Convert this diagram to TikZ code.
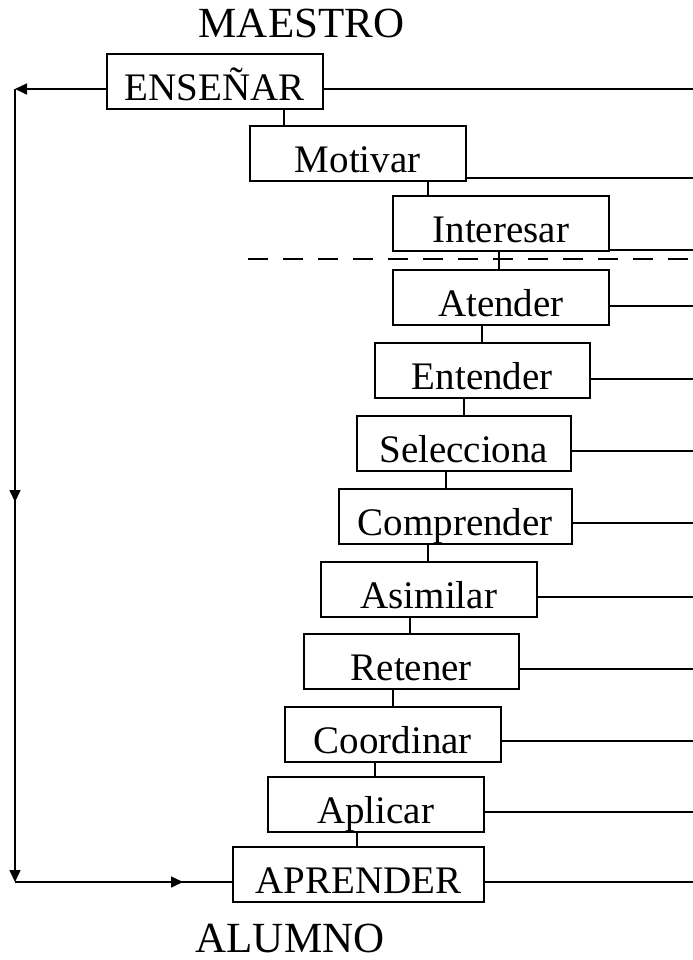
\documentclass[tikz,border=0pt]{standalone}
\usepackage{fontspec}
\setmainfont{Liberation Serif}
\usetikzlibrary{arrows.meta,decorations.markings}

\begin{document}
\begin{tikzpicture}[x=1bp,y=-1bp,
  stagebox/.style={draw, line width=1.6bp, inner sep=0pt,
    text height=46.5bp, text depth=8.5bp, anchor=north west,
    minimum width=216bp,
    font=\fontsize{39bp}{41bp}\selectfont},
  role/.style={inner sep=0pt, anchor=base, text depth=0pt,
    font=\fontsize{43bp}{45bp}\selectfont},
  link/.style={line width=1.6bp},
  tip/.style={-{Triangle[length=12bp,width=11bp]}},
  midtip/.style={postaction=decorate, decoration={markings,
    mark=at position #1 with {\arrow{Triangle[length=12bp,width=11bp]}}}}
]
\useasboundingbox (0,0) rectangle (693,960);

% role labels
\node[role] (maestro) at (301.5,37) {MAESTRO};
\node[role] (alumno) at (290,952) {ALUMNO};

% stages of the process
\node[stagebox] (ens) at (106,53) {ENSEÑAR};
\node[stagebox] (mot) at (249,125) {Motivar};
\node[stagebox] (int) at (392,195) {Interesar};
\node[stagebox] (ate) at (392,269) {Atender};
\node[stagebox, minimum width=215bp] (ent) at (374,342) {Entender};
\node[stagebox, minimum width=214bp] (sel) at (356,415) {Selecciona};
\node[stagebox, minimum width=233bp] (com) at (338,488) {Comprender};
\node[stagebox] (asi) at (320,561) {Asimilar};
\node[stagebox, minimum width=215bp] (ret) at (303,633) {Retener};
\node[stagebox] (coo) at (284,706) {Coordinar};
\node[stagebox] (apl) at (267,776) {Aplicar};
\node[stagebox, minimum width=251bp] (apr) at (232,846) {APRENDER};

% vertical links between consecutive stages
\draw[link] (ens.south -| 284,0) -- (mot.north -| 284,0);
\draw[link] (mot.south -| 428,0) -- (int.north -| 428,0);
\draw[link] (int.south -| 499,0) -- (ate.north -| 499,0);
\draw[link] (ate.south -| 482,0) -- (ent.north -| 482,0);
\draw[link] (ent.south -| 464,0) -- (sel.north -| 464,0);
\draw[link] (sel.south -| 446,0) -- (com.north -| 446,0);
\draw[link] (com.south -| 428,0) -- (asi.north -| 428,0);
\draw[link] (asi.south -| 410,0) -- (ret.north -| 410,0);
\draw[link] (ret.south -| 393,0) -- (coo.north -| 393,0);
\draw[link] (coo.south -| 375,0) -- (apl.north -| 375,0);
\draw[link] (apl.south -| 357,0) -- (apr.north -| 357,0);

% lines running off to the right
\coordinate (r1) at (693,89);
\coordinate (r2) at (693,178);
\coordinate (r3) at (693,250);
\coordinate (r4) at (693,306);
\coordinate (r5) at (693,379);
\coordinate (r6) at (693,451);
\coordinate (r7) at (693,523);
\coordinate (r8) at (693,597);
\coordinate (r9) at (693,669);
\coordinate (r10) at (693,741);
\coordinate (r11) at (693,812);
\coordinate (r12) at (693,882);
\draw[link] (ens.east |- r1) -- (r1);
\draw[link] (mot.east |- r2) -- (r2);
\draw[link] (int.east |- r3) -- (r3);
\draw[link] (ate.east |- r4) -- (r4);
\draw[link] (ent.east |- r5) -- (r5);
\draw[link] (sel.east |- r6) -- (r6);
\draw[link] (com.east |- r7) -- (r7);
\draw[link] (asi.east |- r8) -- (r8);
\draw[link] (ret.east |- r9) -- (r9);
\draw[link] (coo.east |- r10) -- (r10);
\draw[link] (apl.east |- r11) -- (r11);
\draw[link] (apr.east |- r12) -- (r12);

% dashed separator
\coordinate (d1) at (248,259);
\coordinate (d2) at (693,259);
\draw[line width=1.4bp, dash pattern=on 20bp off 15bp] (d1) -- (d2);

% feedback loop on the left
\coordinate (tl) at (15,89);
\coordinate (bl) at (15,882);
\draw[link, tip] (ens.west |- tl) -- (tl);
\draw[link, tip, midtip=413bp] (tl) -- (bl);
\draw[link, midtip=168bp] (bl) -- (apr.west |- bl);
\end{tikzpicture}
\end{document}
